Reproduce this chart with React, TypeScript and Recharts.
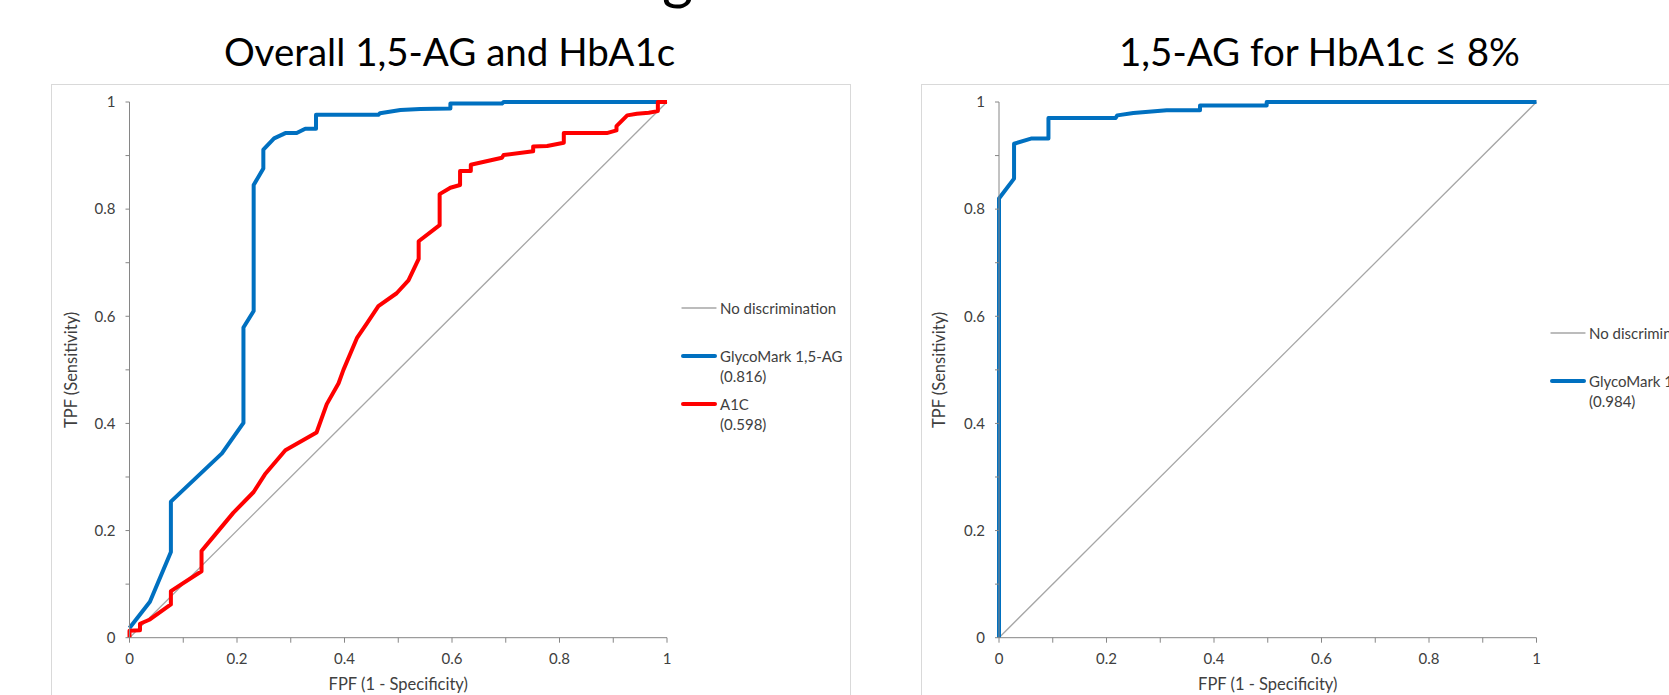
import React from 'react';
import { LineChart, Line, XAxis, YAxis, Legend } from 'recharts';

// ---------- data ----------
const axisTicks = [0, 0.1, 0.2, 0.3, 0.4, 0.5, 0.6, 0.7, 0.8, 0.9, 1];
const axisTickLabels = ['0', '', '0.2', '', '0.4', '', '0.6', '', '0.8', '', '1'];

const noDiscrimination: [number, number][] = [[0, 0], [1, 1]];

const glycoOverall: [number, number][] = [
  [0, 0.018], [0.038, 0.067], [0.077, 0.16], [0.077, 0.254], [0.172, 0.344],
  [0.212, 0.401], [0.212, 0.579], [0.231, 0.61], [0.231, 0.845], [0.249, 0.876],
  [0.249, 0.911], [0.269, 0.932], [0.29, 0.942], [0.311, 0.942], [0.327, 0.95],
  [0.347, 0.95], [0.347, 0.976], [0.463, 0.976], [0.466, 0.979], [0.504, 0.985],
  [0.541, 0.987], [0.597, 0.988], [0.597, 0.997], [0.693, 0.997], [0.696, 1],
  [1, 1],
];

const a1cOverall: [number, number][] = [
  [0, 0], [0, 0.013], [0.0195, 0.014], [0.0195, 0.026], [0.038, 0.034],
  [0.077, 0.062], [0.077, 0.087], [0.134, 0.124], [0.134, 0.162], [0.159, 0.192],
  [0.193, 0.233], [0.231, 0.272], [0.252, 0.305], [0.29, 0.35], [0.348, 0.383],
  [0.367, 0.436], [0.389, 0.475], [0.398, 0.5], [0.423, 0.559], [0.442, 0.587],
  [0.463, 0.619], [0.497, 0.643], [0.519, 0.667], [0.538, 0.707], [0.538, 0.74],
  [0.577, 0.77], [0.577, 0.828], [0.597, 0.84], [0.615, 0.845], [0.615, 0.871],
  [0.635, 0.871], [0.635, 0.883], [0.693, 0.896], [0.696, 0.901], [0.751, 0.908],
  [0.751, 0.917], [0.777, 0.918], [0.808, 0.924], [0.808, 0.942], [0.888, 0.942],
  [0.906, 0.947], [0.906, 0.955], [0.926, 0.975], [0.944, 0.978], [0.966, 0.98],
  [0.983, 0.983], [0.983, 1], [1, 1],
];

const glycoLowA1c: [number, number][] = [
  [0, 0], [0, 0.82], [0.028, 0.857], [0.028, 0.922], [0.061, 0.932],
  [0.092, 0.932], [0.092, 0.97], [0.217, 0.97], [0.22, 0.975], [0.25, 0.9795],
  [0.312, 0.9845], [0.374, 0.9845], [0.374, 0.9935], [0.498, 0.9935], [0.498, 1],
  [1, 1],
];

const leftTitle = 'Overall 1,5-AG and HbA1c';
const rightTitle = '1,5-AG for HbA1c ≤ 8%';
const xAxisTitle = 'FPF (1 - Specificity)';
const yAxisTitle = 'TPF (Sensitivity)';
const leftLegend = [['No discrimination'], ['GlycoMark 1,5-AG', '(0.816)'], ['A1C', '(0.598)']];
const rightLegend = [['No discrimination'], ['GlycoMark 1,5-AG', '(0.984)']];

// ---------- styles ----------
const FONT = 'Lato, "Open Sans", sans-serif';
const TEXT = '#404040';
const AXIS = '#868686';
const GRAY = '#A6A6A6';
const BLUE = '#0070C0';
const RED = '#FF0000';
const SMALL = 15;
const AXIS_TITLE = 16.5;

const toPts = (p: [number, number][]) => p.map(([x, y]) => ({ x, y }));
const labelFor = (v: number) => {
  const i = axisTicks.indexOf(v);
  return i >= 0 ? axisTickLabels[i] : '';
};

const XTick = (props: any) => {
  const { x, y, payload } = props;
  const t = labelFor(payload.value);
  if (!t) return <g />;
  return (
    <text x={x} y={y} dy="0.71em" textAnchor="middle" fill={TEXT} fontSize={SMALL} fontFamily={FONT}>
      {t}
    </text>
  );
};
const YTick = (props: any) => {
  const { x, y, payload } = props;
  const t = labelFor(payload.value);
  if (!t) return <g />;
  return (
    <text x={x} y={y} dy="0.355em" textAnchor="end" fill={TEXT} fontSize={SMALL} fontFamily={FONT}>
      {t}
    </text>
  );
};

type Series = { name: string; pts: [number, number][]; color: string; width: number };

const makeLegend = (labels: string[][], styles: { color: string; width: number }[]) => () => (
  <div style={{ fontFamily: FONT, fontSize: SMALL, color: TEXT }}>
    {labels.map((lines, i) => (
      <div key={i} style={{ height: 48, display: 'flex', alignItems: 'flex-start' }}>
        <svg width={36} height={20} style={{ flex: 'none' }}>
          <line
            x1={styles[i].width > 2 ? 2 : 1}
            x2={styles[i].width > 2 ? 34 : 35}
            y1={10}
            y2={10}
            stroke={styles[i].color}
            strokeWidth={styles[i].width}
            strokeLinecap="round"
          />
        </svg>
        <div style={{ marginLeft: 3, lineHeight: '20px', whiteSpace: 'nowrap' }}>
          {lines.map((l, j) => (
            <div key={j}>{l}</div>
          ))}
        </div>
      </div>
    ))}
  </div>
);

function RocPanel(props: {
  left: number;
  plotLeft: number;
  yLabelOffset: number;
  title: string;
  series: Series[];
  legend: string[][];
  legendLeft: number;
  legendTop: number;
}) {
  const { left, plotLeft, yLabelOffset, title, series, legend, legendLeft, legendTop } = props;
  const W = 797;
  const H = 640;
  const marginLeft = plotLeft - 60;
  return (
    <>
      <div
        style={{
          position: 'absolute',
          left,
          top: 84,
          width: 800,
          height: 700,
          border: '1px solid #D9D9D9',
          boxSizing: 'border-box',
        }}
      />
      <div
        style={{
          position: 'absolute',
          left,
          top: 31.5,
          width: W,
          textAlign: 'center',
          fontFamily: FONT,
          fontSize: 38.5,
          lineHeight: '38.5px',
          color: '#000',
          whiteSpace: 'nowrap',
        }}
      >
        {title}
      </div>
      <div style={{ position: 'absolute', left, top: 84 }}>
        <LineChart
          width={W}
          height={H}
          margin={{ top: 18, right: W - plotLeft - 537.5, bottom: H - 18 - 535.7 - 60, left: marginLeft }}
        >
          <XAxis
            type="number"
            dataKey="x"
            domain={[0, 1]}
            ticks={axisTicks}
            interval={0}
            tickSize={5}
            tickMargin={11}
            height={60}
            axisLine={{ stroke: AXIS }}
            tickLine={{ stroke: AXIS }}
            tick={<XTick />}
            label={{
              value: xAxisTitle,
              position: 'insideBottom',
              offset: 8,
              fill: TEXT,
              fontSize: AXIS_TITLE,
              fontFamily: FONT,
            }}
          />
          <YAxis
            type="number"
            dataKey="y"
            domain={[0, 1]}
            ticks={axisTicks}
            interval={0}
            tickSize={4}
            tickMargin={10}
            width={60}
            axisLine={{ stroke: AXIS }}
            tickLine={{ stroke: AXIS }}
            tick={<YTick />}
            label={{
              value: yAxisTitle,
              position: 'insideLeft',
              angle: -90,
              offset: yLabelOffset,
              fill: TEXT,
              fontSize: AXIS_TITLE,
              fontFamily: FONT,
              style: { textAnchor: 'middle' },
            }}
          />
          {series.map((s) => (
            <Line
              key={s.name}
              name={s.name}
              data={toPts(s.pts)}
              dataKey="y"
              type="linear"
              stroke={s.color}
              strokeWidth={s.width}
              strokeLinejoin="round"
              dot={false}
              activeDot={false}
              isAnimationActive={false}
            />
          ))}
          <Legend
            layout="vertical"
            align="center"
            verticalAlign="middle"
            content={makeLegend(legend, series)}
            wrapperStyle={{ left: legendLeft, top: legendTop, width: 220 }}
          />
        </LineChart>
      </div>
    </>
  );
}

export default function App() {
  const leftSeries: Series[] = [
    { name: 'No discrimination', pts: noDiscrimination, color: GRAY, width: 1.3 },
    { name: 'GlycoMark 1,5-AG (0.816)', pts: glycoOverall, color: BLUE, width: 4 },
    { name: 'A1C (0.598)', pts: a1cOverall, color: RED, width: 4 },
  ];
  const rightSeries: Series[] = [
    { name: 'No discrimination', pts: noDiscrimination, color: GRAY, width: 1.3 },
    { name: 'GlycoMark 1,5-AG (0.984)', pts: glycoLowA1c, color: BLUE, width: 4 },
  ];
  return (
    <div
      style={{
        position: 'absolute',
        left: 0,
        top: 0,
        width: 1669,
        height: 695,
        overflow: 'hidden',
        background: '#fff',
      }}
    >
      <div
        style={{
          position: 'absolute',
          left: 662,
          top: -55,
          fontFamily: FONT,
          fontSize: 60,
          lineHeight: '60px',
          color: '#000',
        }}
      >
        g
      </div>
      <RocPanel
        left={51}
        plotLeft={78.5}
        yLabelOffset={1.5}
        title={leftTitle}
        series={leftSeries}
        legend={leftLegend}
        legendLeft={630}
        legendTop={214.3}
      />
      <RocPanel
        left={921}
        plotLeft={78}
        yLabelOffset={0}
        title={rightTitle}
        series={rightSeries}
        legend={rightLegend}
        legendLeft={629}
        legendTop={238.7}
      />
    </div>
  );
}
